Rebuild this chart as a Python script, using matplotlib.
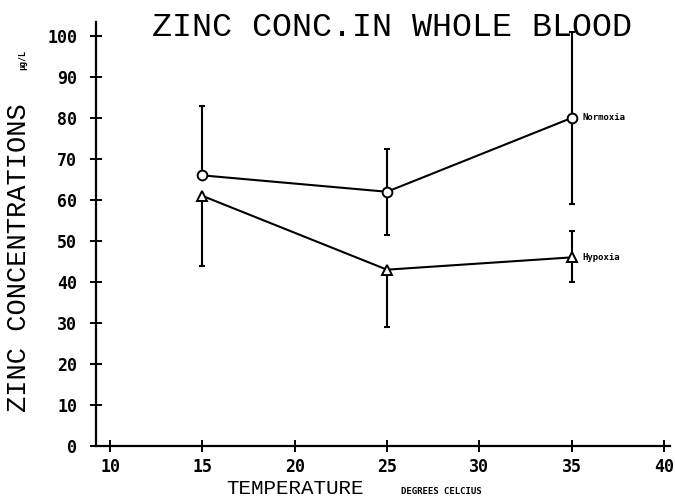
"""Zinc concentration in whole blood vs. temperature, normoxia and hypoxia."""
import matplotlib
matplotlib.use("Agg")
import matplotlib.pyplot as plt
import numpy as np

temps = [15, 25, 35]

normoxia_mean = [66, 62, 80]
normoxia_lo   = [0, 10.5, 21]   # only the arm that was plotted
normoxia_hi   = [17, 10.5, 21]

hypoxia_mean  = [61, 43, 46]
hypoxia_lo    = [17, 14, 6]
hypoxia_hi    = [0, 0, 6.5]

x_ticks = [10, 15, 20, 25, 30, 35, 40]
y_ticks = [0, 10, 20, 30, 40, 50, 60, 70, 80, 90, 100]

MONO = "DejaVu Sans Mono"
THIN = "Liberation Mono"

fig = plt.figure(figsize=(6.75, 5.03), dpi=100)
ax = fig.add_axes([96 / 675, 1 - 446 / 503, 574 / 675, 424 / 503])
ax.set_xlim(9.24, 40.33)
ax.set_ylim(0, 103.4)

for side in ("top", "right"):
    ax.spines[side].set_visible(False)
for side in ("left", "bottom"):
    ax.spines[side].set_linewidth(1.6)

ax.set_xticks(x_ticks)
ax.set_yticks(y_ticks)
ax.tick_params(axis="both", direction="inout", length=9, width=1.4, labelsize=12)
ax.tick_params(axis="y", pad=9)
ax.tick_params(axis="x", pad=4)
for lab in ax.get_xticklabels() + ax.get_yticklabels():
    lab.set_fontfamily(MONO)
    lab.set_fontweight("bold")


def draw_series(mean, lo, hi, marker, label):
    mean = np.asarray(mean, float)
    lo = np.asarray(lo, float)
    hi = np.asarray(hi, float)
    t = np.asarray(temps, float)
    ax.vlines(t, mean - lo, mean + hi, color="black", lw=1.5, zorder=2)
    ends = np.concatenate([(mean - lo)[lo > 0], (mean + hi)[hi > 0]])
    xs = np.concatenate([t[lo > 0], t[hi > 0]])
    ax.plot(xs, ends, ls="none", marker="_", ms=4, mew=1.5, color="black", zorder=2)
    ax.plot(t, mean, color="black", lw=1.5, marker=marker, ms=7, mfc="white",
            mec="black", mew=1.4, zorder=3)
    ax.annotate(label, xy=(t[-1], mean[-1]), xytext=(8, 0), textcoords="offset points",
                ha="left", va="center", fontsize=6.5, fontweight="bold", family=MONO)


draw_series(normoxia_mean, normoxia_lo, normoxia_hi, "o", "Normoxia")
draw_series(hypoxia_mean, hypoxia_lo, hypoxia_hi, "^", "Hypoxia")

fig.text(392 / 675, 1 - 27 / 503, "ZINC CONC.IN WHOLE BLOOD", ha="center", va="center",
         fontsize=24, family=THIN)
fig.text(19 / 675, 1 - 258 / 503, "ZINC CONCENTRATIONS", ha="center", va="center",
         rotation=90, fontsize=19.5, family=THIN)
fig.text(23 / 675, 1 - 60 / 503, "µg/L", ha="center", va="center",
         rotation=90, fontsize=6, fontweight="bold", family=MONO)
fig.text(295 / 675, 1 - 489 / 503, "TEMPERATURE", ha="center", va="center",
         fontsize=15, family=THIN)
fig.text(441 / 675, 1 - 492 / 503, "DEGREES CELCIUS", ha="center", va="center",
         fontsize=6.5, fontweight="bold", family=MONO)

fig.savefig("out.png", dpi=100)
